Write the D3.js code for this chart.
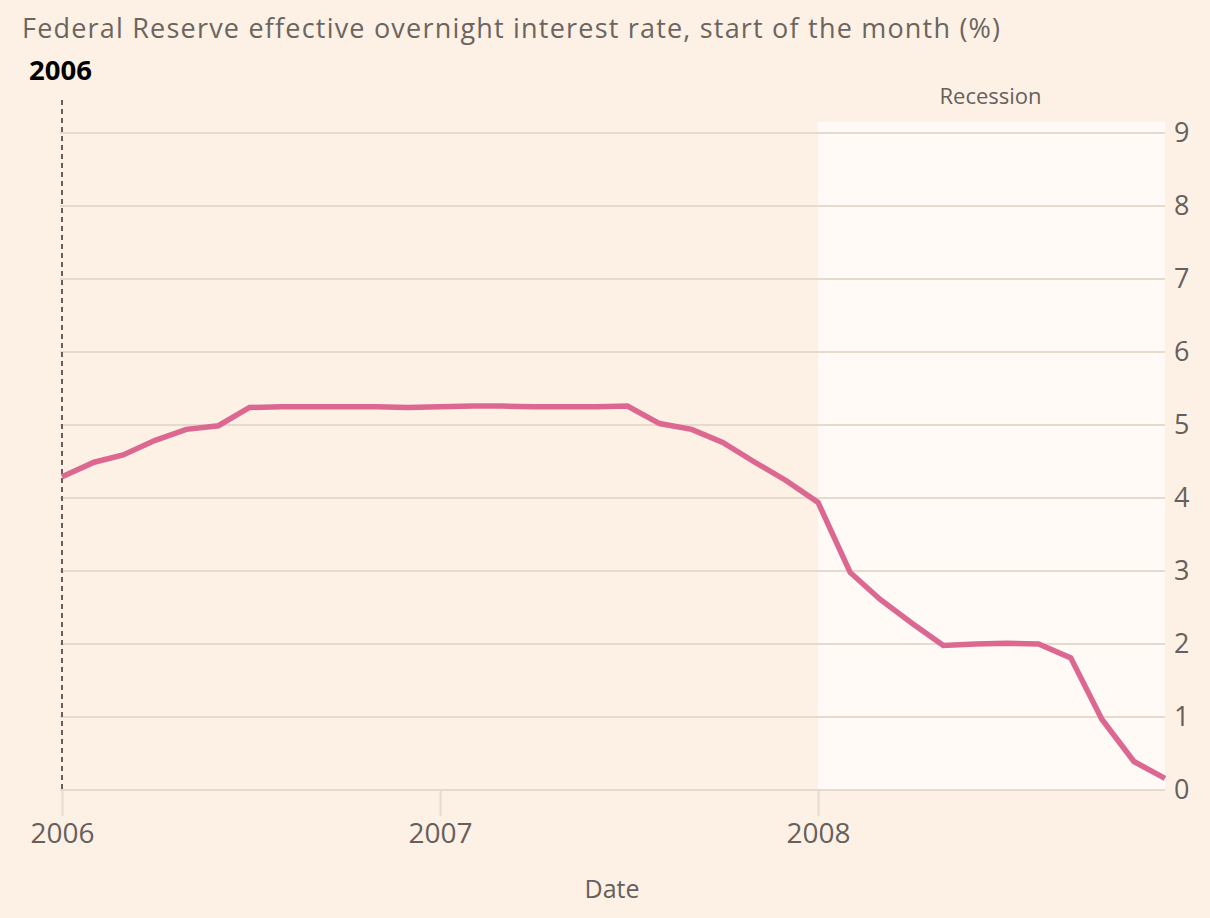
<!DOCTYPE html>
<html>
<head>
<meta charset="utf-8">
<script src="https://cdn.jsdelivr.net/npm/d3@7"></script>
<style>
  html, body { margin: 0; padding: 0; background: #fdf1e6; }
  svg { display: block; font-family: "Open Sans", Lato, sans-serif; }
</style>
</head>
<body>
<svg id="chart" width="1210" height="918"></svg>
<script>
const months = [
  "2006-01","2006-02","2006-03","2006-04","2006-05","2006-06","2006-07","2006-08","2006-09","2006-10","2006-11","2006-12",
  "2007-01","2007-02","2007-03","2007-04","2007-05","2007-06","2007-07","2007-08","2007-09","2007-10","2007-11","2007-12",
  "2008-01","2008-02","2008-03","2008-04","2008-05","2008-06","2008-07","2008-08","2008-09","2008-10","2008-11","2008-12"
];
const rates = [
  4.29, 4.49, 4.59, 4.79, 4.94, 4.99, 5.24, 5.25, 5.25, 5.25, 5.25, 5.24,
  5.25, 5.26, 5.26, 5.25, 5.25, 5.25, 5.26, 5.02, 4.94, 4.76, 4.49, 4.24,
  3.94, 2.98, 2.61, 2.28, 1.98, 2.00, 2.01, 2.00, 1.81, 0.97, 0.39, 0.16
];
const yTicks = [0, 1, 2, 3, 4, 5, 6, 7, 8, 9];
const xTicks = ["2006-01", "2007-01", "2008-01"];
const xTickLabels = ["2006", "2007", "2008"];
const recession = ["2008-01", "2008-12"];
const markerDate = "2006-01";
const markerLabel = "2006";
const titleText = "Federal Reserve effective overnight interest rate, start of the month (%)";

const parse = d3.timeParse("%Y-%m");
const data = months.map((m, i) => ({ date: parse(m), value: rates[i] }));

const svg = d3.select("#chart");
const mLeft = 62, mRight = 1165, mTop = 133, mBottom = 790;
const FONT = "'Open Sans', Lato, sans-serif";

const x = d3.scaleTime().domain([parse(months[0]), parse(months[months.length - 1])]).range([mLeft, mRight]);
const y = d3.scaleLinear().domain([0, 9]).range([mBottom, mTop]);

// recession band
svg.append("rect")
  .attr("x", x(parse(recession[0])))
  .attr("y", 122)
  .attr("width", x(parse(recession[1])) - x(parse(recession[0])))
  .attr("height", mBottom - 122)
  .attr("fill", "#fffaf6");

svg.append("text")
  .attr("x", (x(parse(recession[0])) + x(parse(recession[1]))) / 2 - 1)
  .attr("y", 104)
  .attr("text-anchor", "middle")
  .attr("font-size", 22)
  .attr("fill", "#66605c")
  .text("Recession");

// gridlines
svg.append("g")
  .selectAll("line")
  .data(yTicks)
  .join("line")
  .attr("x1", 60)
  .attr("x2", mRight)
  .attr("y1", d => y(d))
  .attr("y2", d => y(d))
  .attr("stroke", "#e6d9ce")
  .attr("stroke-width", 2);

// y axis on right
const yAxis = svg.append("g")
  .attr("transform", `translate(${mRight},0)`)
  .call(d3.axisRight(y).tickValues(yTicks).tickSize(0).tickPadding(9));
yAxis.select(".domain").remove();
yAxis.selectAll("text")
  .attr("font-size", 27)
  .attr("fill", "#66605c")
  .attr("font-family", FONT);

// x axis
const xAxis = svg.append("g")
  .attr("transform", `translate(0,${mBottom})`)
  .call(d3.axisBottom(x)
    .tickValues(xTicks.map(parse))
    .tickFormat((d, i) => xTickLabels[i])
    .tickSize(26)
    .tickPadding(7));
xAxis.select(".domain")
  .attr("d", `M60,0H${mRight}`)
  .attr("stroke", "#e6d9ce")
  .attr("stroke-width", 2);
xAxis.selectAll(".tick line").attr("stroke", "#e6d9ce").attr("stroke-width", 2);
xAxis.selectAll("text")
  .attr("font-size", 28)
  .attr("fill", "#66605c")
  .attr("font-family", FONT);

// marker line
svg.append("line")
  .attr("x1", x(parse(markerDate)))
  .attr("x2", x(parse(markerDate)))
  .attr("y1", 100)
  .attr("y2", mBottom)
  .attr("stroke", "#66605c")
  .attr("stroke-width", 2)
  .attr("stroke-dasharray", "5,4");

svg.append("text")
  .attr("x", 29)
  .attr("y", 80)
  .attr("font-size", 27.5)
  .attr("font-weight", "bold")
  .attr("fill", "#000")
  .text(markerLabel);

// line
svg.append("path")
  .datum(data)
  .attr("fill", "none")
  .attr("stroke", "#dc6892")
  .attr("stroke-width", 5.5)
  .attr("stroke-linejoin", "miter")
  .attr("d", d3.line().x(d => x(d.date)).y(d => y(d.value)));

// title
svg.append("text")
  .attr("x", 22)
  .attr("y", 38)
  .attr("font-size", 27)
  .attr("letter-spacing", 1.2)
  .attr("fill", "#6b6560")
  .text(titleText);

// axis title
svg.append("text")
  .attr("x", 612)
  .attr("y", 898)
  .attr("text-anchor", "middle")
  .attr("font-size", 25)
  .attr("fill", "#66605c")
  .text("Date");
</script>
</body>
</html>
